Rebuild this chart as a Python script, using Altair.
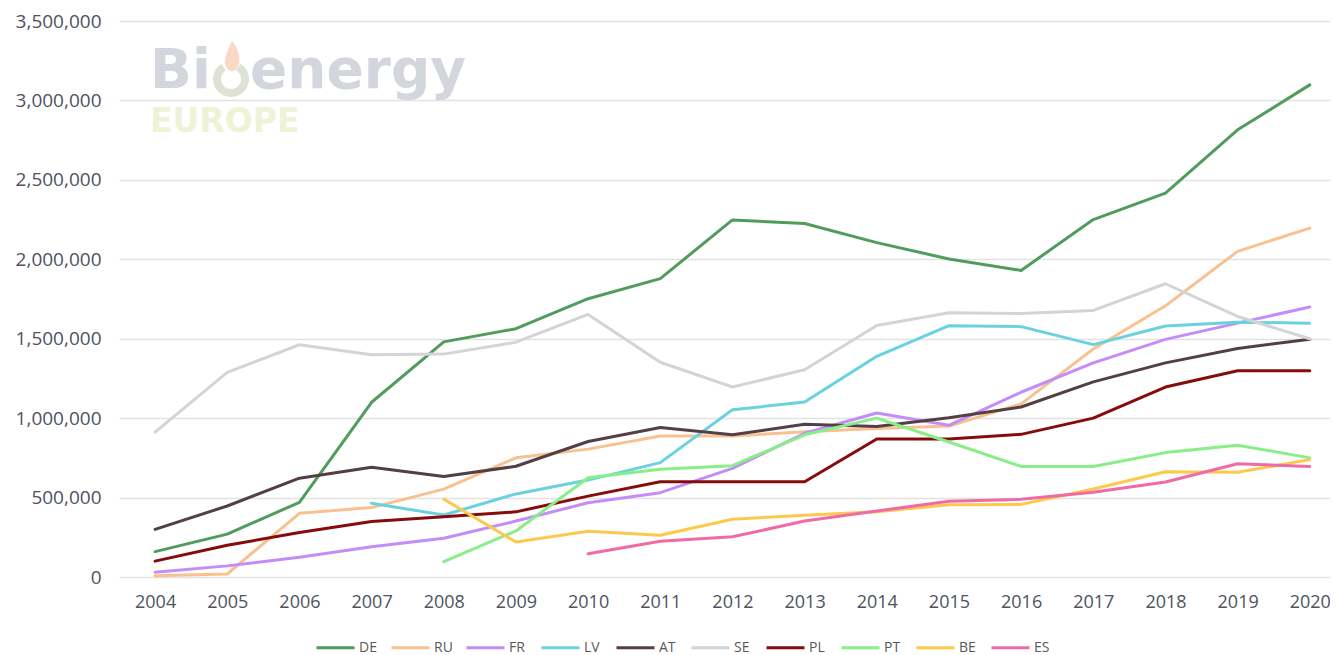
import altair as alt
import pandas as pd

years = list(range(2004, 2021))

DE = [160000, 270000, 470000, 1100000, 1480000, 1563000, 1752000, 1878000, 2248000, 2225000, 2105000, 2002000, 1930000, 2250000, 2417000, 2815000, 3098000]
RU = [8000, 19000, 401000, 437000, 553000, 750000, 805000, 888000, 888000, 914000, 935000, 950000, 1090000, 1435000, 1707000, 2050000, 2196000]
FR = [30000, 70000, 124000, 190000, 244000, 352000, 467000, 531000, 684000, 905000, 1032000, 955000, 1163000, 1348000, 1496000, 1598000, 1700000]
LV = [None, None, None, 464000, 390000, 523000, 610000, 720000, 1053000, 1101000, 1389000, 1582000, 1576000, 1463000, 1580000, 1604000, 1598000]
AT = [300000, 447000, 622000, 691000, 632000, 697000, 853000, 941000, 895000, 962000, 947000, 1003000, 1070000, 1228000, 1348000, 1439000, 1496000]
SE = [912000, 1288000, 1462000, 1399000, 1403000, 1478000, 1653000, 1352000, 1196000, 1305000, 1583000, 1663000, 1659000, 1678000, 1846000, 1640000, 1500000]
PL = [100000, 200000, 280000, 349000, 380000, 410000, 509000, 600000, 600000, 600000, 869000, 869000, 898000, 1000000, 1196000, 1298000, 1298000]
PT = [None, None, None, None, 97000, 290000, 625000, 678000, 701000, 895000, 1000000, 850000, 696000, 696000, 783000, 830000, 750000]
BE = [None, None, None, None, 490000, 220000, 288000, 263000, 364000, 389000, 410000, 455000, 457000, 554000, 663000, 659000, 739000]
ES = [None, None, None, None, None, None, 147000, 225000, 253000, 352000, 415000, 477000, 489000, 533000, 598000, 713000, 696000]

countries = ["DE", "RU", "FR", "LV", "AT", "SE", "PL", "PT", "BE", "ES"]
series = [DE, RU, FR, LV, AT, SE, PL, PT, BE, ES]
colors = ["#519c5c", "#f9c190", "#c48cf8", "#6ad2df", "#533f44", "#d4d4d4",
          "#860c0c", "#88ee88", "#fcc94c", "#f06ba6"]

rows = []
for c, vals in zip(countries, series):
    for y, v in zip(years, vals):
        if v is not None:
            rows.append({"year": y, "value": v, "country": c})
df = pd.DataFrame(rows)

FONT = "Open Sans"
LABEL = "#4d5361"

lines = alt.Chart(df).mark_line(strokeWidth=3, strokeJoin="round", strokeCap="round").encode(
    x=alt.X("year:Q",
            scale=alt.Scale(domain=[2003.5, 2020.28], nice=False, zero=False),
            axis=alt.Axis(values=years, format="d", title=None, grid=False, domain=False,
                          ticks=False, labelFontSize=18, labelColor=LABEL, labelFont=FONT,
                          labelPadding=16, labelFlush=False)),
    y=alt.Y("value:Q",
            scale=alt.Scale(domain=[0, 3500000], nice=False),
            axis=alt.Axis(values=list(range(0, 3500001, 500000)), format=",d", title=None,
                          domain=False, ticks=False, gridColor="#e2e2e2", gridWidth=1.5,
                          labelFontSize=19, labelColor=LABEL, labelFont=FONT, labelPadding=18)),
    color=alt.Color("country:N",
                    scale=alt.Scale(domain=countries, range=colors),
                    legend=alt.Legend(title=None, orient="none", direction="horizontal",
                                      columns=10, legendX=196, legendY=606,
                                      symbolType="stroke", symbolSize=1444, symbolStrokeWidth=3,
                                      labelFontSize=14, labelColor="#595959", labelFont=FONT,
                                      labelOffset=3, columnPadding=7, gridAlign="all",
                                      padding=0)),
    detail="country:N",
)

one = pd.DataFrame({"t": ["x"]})

bi = alt.Chart(pd.DataFrame({"t": ["Bi"]})).mark_text(
    font="DejaVu Sans", fontWeight="bold", fontSize=55, align="left", baseline="alphabetic",
    color="#d4d6dd").encode(x=alt.value(31), y=alt.value(67), text="t:N")
energy = alt.Chart(pd.DataFrame({"t": ["energy"]})).mark_text(
    font="DejaVu Sans", fontWeight="bold", fontSize=55, align="left", baseline="alphabetic",
    color="#d4d6dd").encode(x=alt.value(131), y=alt.value(67), text="t:N")
europe = alt.Chart(pd.DataFrame({"t": ["EUROPE"]})).mark_text(
    font="DejaVu Sans", fontWeight="bold", fontSize=33, align="left", baseline="alphabetic",
    color="#eef3d8").encode(x=alt.value(31), y=alt.value(111), text="t:N")
ring = alt.Chart(one).mark_arc(radius=18, radius2=10, theta=0.55, theta2=5.73,
                               color="#dde2d5").encode(x=alt.value(112), y=alt.value(58))
flame = alt.Chart(one).mark_point(
    shape="M0,-1 C0.45,-0.4 0.55,0.2 0.35,0.6 C0.2,0.95 -0.2,0.95 -0.35,0.6 C-0.55,0.2 -0.3,-0.3 0,-1 Z",
    size=1100, filled=True, color="#f9d8c6", opacity=1).encode(x=alt.value(113), y=alt.value(36))

chart = alt.layer(bi, energy, europe, ring, flame, lines).properties(
    width=1211, height=556,
    autosize=alt.AutoSizeParams(type="none"),
    padding={"left": 111, "top": 13, "right": 0, "bottom": 78},
    background="white",
).configure_view(stroke=None)

chart.save("out.html", embed_options={"renderer": "svg", "actions": False})
